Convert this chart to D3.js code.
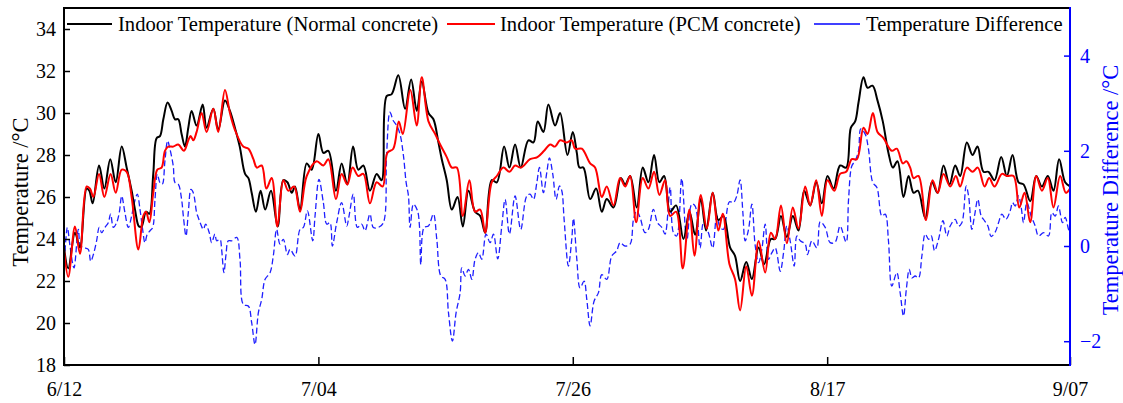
<!DOCTYPE html>
<html><head><meta charset="utf-8">
<script src="https://cdn.jsdelivr.net/npm/d3@7"></script>
<style>
html,body{margin:0;padding:0;background:#fff;}
svg{display:block;}
svg text{font-family:"Liberation Serif","Times New Roman",serif !important;}
</style></head>
<body>
<svg id="chart" width="1123" height="403"></svg>
<script>
// ---------- DATA (day offset from 6/12, value) ----------
const xTickDays = [0, 22, 44, 66, 87];
const xTickLabels = ["6/12", "7/04", "7/26", "8/17", "9/07"];
const leftTicks = [18, 20, 22, 24, 26, 28, 30, 32, 34];
const rightTicks = [-2, 0, 2, 4];
const seriesNames = ["Indoor Temperature (Normal concrete)", "Indoor Temperature (PCM concrete)", "Temperature Difference"];

const normalT = [
[0,23.6],[0.37,22.6],[0.95,24.3],[1.38,23.6],[1.96,26.4],[2.19,26.3],[2.48,25.7],[3.03,27.5],[3.49,26.4],[4.0,27.8],[4.47,26.7],[4.99,28.4],[5.42,27.4],[5.85,26.3],[6.14,25.4],[6.48,24.6],[6.71,24.6],[7.09,25.3],[7.38,25.2],[7.72,27.1],[8.01,28.8],[8.3,28.9],[8.59,29.7],[8.96,30.5],[9.31,30.1],[9.6,29.7],[9.88,29.7],[10.17,29.0],[10.46,28.4],[10.75,29.3],[11.04,30.1],[11.47,29.4],[11.99,30.4],[12.33,29.3],[12.91,30.2],[13.34,29.2],[13.92,30.6],[14.35,30.1],[14.78,29.3],
[15.2,28.4],[15.66,27.1],[15.95,26.9],[16.23,26.2],[16.6,25.3],[17.0,26.3],[17.4,25.4],[17.9,26.3],[18.48,24.6],[18.97,26.8],[19.32,26.7],[19.7,26.2],[19.98,26.5],[20.41,25.4],[20.99,27.6],[21.42,27.3],[22.0,29.0],[22.43,28.1],[22.86,28.2],[23.52,26.3],[24.01,27.6],[24.5,26.6],[25.0,28.4],[25.45,27.3],[25.89,27.5],[26.46,26.3],[27.04,27.1],[27.47,26.8],[27.9,30.8],[28.34,30.9],[28.91,31.8],
[29.5,30.2],[30.02,31.6],[30.51,30.1],[30.94,31.5],[31.52,30.0],[31.95,29.7],[32.38,28.6],[32.67,27.8],[33.1,26.8],[33.54,25.4],[34.03,26.0],[34.49,24.6],[34.98,26.3],[35.55,25.3],[35.99,25.1],[36.42,24.3],[36.99,26.8],[37.43,26.7],[38.06,28.4],[38.52,27.4],[39.01,28.5],[39.5,27.4],[40.16,28.7],[40.6,28.6],[40.97,29.6],[41.46,29.1],[41.89,30.4],[42.47,29.4],[42.9,30.0],[43.54,28.0],[44.0,29.1],
[44.35,28.1],[44.58,27.4],[44.92,27.4],[45.5,25.9],[46.02,26.4],[46.51,25.3],[46.94,25.9],[47.52,25.5],[48.15,26.9],[48.53,26.6],[48.96,27.0],[49.53,25.5],[50.05,27.4],[50.54,26.7],[51.03,28.0],[51.49,26.7],[51.9,27.0],[52.42,25.3],[52.93,25.6],[53.57,24.0],[54.09,25.3],[54.58,24.2],[55.07,25.9],[55.53,24.4],[56.1,26.2],[56.59,24.9],[57.03,25.1],[57.6,23.6],[58.03,23.2],[58.47,22.0],
[59.0,22.9],[59.49,22.1],[60.07,23.6],[60.55,22.8],[61.13,24.0],[61.5,24.0],[62.0,25.1],[62.51,24.1],[63.03,25.1],[63.52,24.4],[64.01,26.3],[64.53,25.6],[65.05,26.7],[65.54,25.7],[66.03,27.0],[66.55,26.4],[67.12,27.5],[67.64,27.4],[68.05,29.3],[68.42,29.6],[68.71,30.5],[69.14,31.7],[69.49,31.2],[69.92,31.3],[70.35,30.6],[70.81,29.6],[71.3,28.1],[71.68,27.4],[72.08,27.7],[72.6,26.0],
[73.04,27.0],[73.47,26.2],[73.85,26.3],[74.48,25.0],[75.06,26.7],[75.55,26.2],[76.06,27.5],[76.58,26.6],[77.07,27.5],[77.5,27.0],[78.08,28.6],[78.57,28.0],[79.0,28.4],[79.52,27.2],[79.95,27.2],[80.47,26.8],[81.05,27.9],[81.54,27.0],[82.03,28.0],[82.55,26.7],[82.98,26.6],[83.56,25.8],[84.08,27.0],[84.57,26.5],[85.08,27.0],[85.57,26.3],[86.06,27.8],[86.58,26.7],[87.0,26.5]
];

const pcmT = [
[0,23.5],[0.37,22.2],[0.95,24.6],[1.38,23.3],[1.96,26.5],[2.25,26.4],[2.54,26.0],[3.03,27.1],[3.49,26.0],[4.03,27.1],[4.47,26.2],[4.99,27.3],[5.42,27.2],[5.85,26.0],[6.43,23.5],[6.86,25.1],[7.09,25.3],[7.38,24.8],[7.72,26.2],[8.07,27.3],[8.44,27.4],[8.73,28.2],[9.02,28.4],[9.45,28.4],[9.88,28.5],[10.37,28.2],[10.75,28.7],[10.95,28.9],[11.18,28.7],[11.47,29.1],[11.9,30.0],[12.33,29.1],[12.91,30.2],[13.34,29.1],[13.92,31.1],[14.35,30.0],[14.78,29.2],
[15.5,28.4],[15.95,28.3],[16.38,27.8],[16.67,27.4],[17.1,27.5],[17.5,26.4],[17.96,26.9],[18.45,24.6],[18.97,26.8],[19.4,26.3],[19.9,26.5],[20.41,25.3],[20.99,27.0],[21.85,27.7],[22.43,27.5],[22.86,27.8],[23.52,25.9],[24.01,27.1],[24.5,26.6],[24.96,27.4],[25.45,27.0],[25.89,27.1],[26.46,25.7],[27.04,26.7],[27.56,26.5],[27.96,28.1],[28.48,28.3],[28.95,29.6],[29.3,29.0],
[29.95,31.1],[30.5,29.4],[30.94,31.7],[31.52,29.6],[32.1,29.0],[32.53,28.5],[33.1,27.9],[33.54,27.4],[33.97,27.4],[34.49,25.1],[35.06,26.8],[35.55,25.3],[35.99,25.4],[36.42,24.3],[36.99,26.7],[37.43,27.0],[38.0,27.4],[38.52,27.2],[39.01,27.5],[39.5,27.4],[40.31,27.8],[40.94,27.9],[41.52,28.2],[42.04,28.5],[42.47,28.4],[42.9,28.7],[43.48,28.6],[43.91,28.7],[44.2,28.3],
[44.78,28.3],[45.5,27.6],[45.93,27.4],[46.51,26.0],[46.94,26.5],[47.52,25.6],[48.09,26.9],[48.53,26.5],[48.96,27.0],[49.48,24.8],[50.05,26.9],[50.54,26.4],[51.03,27.2],[51.49,26.1],[51.98,26.8],[52.42,25.1],[52.93,25.3],[53.51,22.6],[54.09,25.4],[54.52,23.2],[55.07,26.1],[55.59,24.5],[56.1,26.2],[56.59,24.4],[56.97,25.2],[57.55,22.8],[58.03,22.1],[58.47,20.6],
[59.0,22.7],[59.49,21.3],[60.07,23.9],[60.64,22.4],[61.13,24.3],[61.5,24.0],[62.0,25.6],[62.51,23.8],[63.03,25.5],[63.52,24.5],[64.1,26.5],[64.53,25.6],[65.05,26.8],[65.54,25.1],[66.03,26.8],[66.61,26.3],[67.12,27.1],[67.64,27.2],[68.13,27.8],[68.57,27.8],[69.14,29.3],[69.49,29.0],[69.95,30.0],[70.35,29.1],[70.87,28.8],[71.59,28.2],[72.02,28.3],[72.54,27.6],[72.85,27.7],
[73.18,27.4],[73.47,26.9],[73.9,27.0],[74.54,24.9],[75.11,26.8],[75.57,26.2],[76.06,27.1],[76.64,26.5],[77.13,27.0],[77.5,26.5],[78.08,27.4],[78.57,27.2],[79.03,27.4],[79.61,26.5],[80.01,26.9],[80.47,26.5],[81.11,27.1],[81.54,27.0],[82.12,27.0],[82.61,25.5],[83.07,26.2],[83.56,24.8],[84.08,27.0],[84.57,26.3],[85.08,26.9],[85.57,25.5],[86.15,27.0],[86.64,26.2],[87.0,26.4]
];

const diffT = [
[0,-0.49],[0.29,0.39],[0.52,0.0],[0.86,-0.46],[1.24,0.35],[1.44,0.0],[1.82,-0.04],[2.1,-0.07],[2.31,-0.32],[2.54,-0.18],[2.82,0.11],[3.05,0.39],[3.26,0.28],[3.54,0.39],[3.83,0.49],[4.03,0.67],[4.27,0.39],[4.55,0.49],[4.78,0.7],[4.99,1.05],[5.27,0.7],[5.56,0.39],[5.85,0.63],[6.05,0.88],[6.34,1.09],[6.57,0.77],[6.8,0.35],[7.0,0.07],[7.2,0.25],[7.44,0.32],[7.67,0.39],[7.87,0.98],[8.07,1.51],[8.3,1.33],[8.5,1.3],[8.73,1.79],[8.96,2.21],[9.16,2.04],[9.45,1.68],[9.6,1.33],[9.88,1.3],[10.17,0.98],[10.32,0.63],[10.55,0.21],[10.75,0.7],[10.98,1.19],[11.18,1.12],[11.47,0.7],[11.61,0.6],[11.82,0.46],[12.05,0.35],[12.25,0.46],[12.56,0.28],[12.77,0.07],[13.05,0.25],[13.2,0.11],[13.49,0.14],[13.63,-0.07],[13.83,-0.56],[14.01,-0.18],[14.21,0.11],[14.5,0.11],
[14.94,0.18],[15.22,-0.28],[15.51,-1.23],[15.94,-1.26],[16.23,-1.61],[16.52,-2.07],[16.81,-1.4],[17.1,-1.12],[17.39,-0.7],[17.82,-0.56],[18.1,-0.21],[18.39,0.35],[18.68,0.04],[18.97,0.14],[19.32,-0.18],[19.55,-0.07],[19.98,-0.21],[20.41,0.35],[20.7,0.39],[21.05,0.74],[21.51,0.11],[21.71,0.63],[22.05,1.4],[22.43,0.91],[22.72,0.46],[23.0,0.49],[23.21,0.0],[23.58,0.49],[24.01,0.91],[24.45,0.42],[24.65,0.63],[25.02,1.09],[25.37,0.39],[25.74,0.46],[26.03,0.32],[26.46,0.67],[26.75,0.39],[27.18,0.39],[27.62,0.49],[27.9,1.93],[28.19,2.81],[28.48,2.63],[28.77,2.53],[29.06,2.35],
[29.36,1.89],[29.59,1.33],[29.79,1.05],[29.93,0.39],[30.22,0.88],[30.57,0.74],[30.74,0.42],[30.86,-0.39],[31.14,0.39],[31.52,0.42],[31.95,0.67],[32.24,0.14],[32.59,-0.63],[32.96,-0.7],[33.25,-1.4],[33.59,-2.0],[33.91,-1.4],[34.26,-0.98],[34.4,-0.46],[34.69,-0.63],[34.98,-0.49],[35.27,-0.7],[35.55,-0.28],[35.84,-0.14],[36.13,-0.28],[36.5,0.25],[36.85,0.07],[37.14,0.25],[37.51,-0.27],[37.86,0.42],[38.15,0.98],[38.52,0.25],[39.01,1.05],[39.5,0.35],[40.02,1.05],[40.31,1.09],[40.6,0.98],[40.89,1.33],[41.12,1.65],[41.46,1.12],[41.75,1.54],[41.98,1.85],[42.27,1.51],[42.56,0.98],[42.85,1.26],[43.05,1.16],[43.25,0.56],[43.62,-0.42],[43.91,0.14],[44.06,0.58],
[44.35,-0.28],[44.63,-0.88],[44.98,-0.74],[45.21,-1.12],[45.5,-1.68],[45.84,-1.16],[46.22,-0.98],[46.51,-0.6],[46.94,-0.7],[47.37,-0.21],[47.8,-0.1],[48.09,0.07],[48.52,0.0],[48.96,0.04],[49.25,0.56],[49.53,0.74],[49.82,0.6],[50.25,0.28],[50.54,0.35],[50.97,0.77],[51.32,0.49],[51.7,0.39],[51.98,0.25],[52.42,1.23],[52.7,0.28],[52.99,0.21],[53.42,1.42],[53.86,0.11],[54.29,0.88],[54.58,0.84],[55.01,-0.04],[55.3,0.49],[55.73,0.28],[56.1,-0.04],[56.45,0.63],[56.74,0.39],[57.03,0.35],[57.55,0.93],[57.89,0.91],[58.18,1.05],[58.47,1.39],
[58.71,0.7],[58.91,0.11],[59.2,0.35],[59.49,0.88],[59.78,0.0],[60.07,-0.35],[60.35,-0.07],[60.64,0.46],[60.93,-0.28],[61.22,-0.14],[61.51,-0.04],[61.94,-0.53],[62.23,-0.14],[62.51,0.42],[62.8,0.11],[63.15,-0.42],[63.38,0.21],[63.67,0.11],[64.1,0.04],[64.3,-0.18],[64.68,0.11],[65.11,-0.04],[65.4,0.51],[65.83,0.39],[66.26,0.07],[66.69,0.08],[67.12,0.42],[67.64,0.08],[67.85,0.98],[68.13,1.68],[68.42,1.79],[68.71,2.0],[68.91,2.46],[69.29,2.35],[69.57,2.04],[69.95,1.33],[70.3,1.23],[70.73,0.63],[71.02,0.67],[71.3,0.11],[71.59,-0.84],[72.02,-0.56],[72.31,-0.98],[72.6,-1.47],[72.85,-0.9],
[73.1,-0.49],[73.33,-0.67],[73.61,-0.63],[73.9,-0.67],[74.19,-0.21],[74.48,0.25],[74.77,0.14],[75.0,0.21],[75.29,-0.1],[75.63,0.14],[76.01,0.53],[76.35,0.21],[76.64,0.42],[77.07,0.56],[77.36,0.42],[77.65,0.49],[78.02,1.26],[78.23,1.05],[78.51,0.35],[78.74,0.63],[79.03,0.98],[79.32,0.63],[79.61,0.53],[79.9,0.42],[80.18,0.2],[80.53,0.29],[80.82,0.49],[81.11,0.67],[81.45,0.56],[81.83,0.74],[82.03,0.91],[82.26,0.84],[82.55,1.05],[82.78,0.81],[82.98,0.49],[83.27,0.91],[83.64,0.63],[83.99,0.42],[84.28,0.21],[84.71,0.28],[85.14,0.21],[85.43,0.7],[85.72,0.63],[86.0,0.84],[86.35,0.49],[86.58,0.6],[86.87,0.35],[87.0,0.25]
];

// ---------- LAYOUT ----------
const svg = d3.select("#chart");
const L = 64, R = 1070, T = 8, B = 365;
const TICK_FONT = 20, LEG_FONT = 20.6, TITLE_FONT = 22.5;
const SERIF = "Liberation Serif";

const x = d3.scaleLinear().domain([0, 87]).range([L, R]);
const yL = d3.scaleLinear().domain([18, 35]).range([B, T]);
const yR = d3.scaleLinear().domain([-2.5, 5]).range([B, T]);

svg.append("defs").append("clipPath").attr("id", "clip")
  .append("rect").attr("x", L).attr("y", T).attr("width", R - L).attr("height", B - T);

const plot = svg.append("g").attr("clip-path", "url(#clip)");
const lineL = d3.line().x(d => x(d[0])).y(d => yL(d[1])).curve(d3.curveCatmullRom.alpha(0.5));
const lineR = d3.line().x(d => x(d[0])).y(d => yR(d[1])).curve(d3.curveCatmullRom.alpha(0.5));

plot.append("path").datum(diffT).attr("d", lineR).attr("fill", "none")
  .attr("stroke", "#1f1fff").attr("stroke-width", 1.3).attr("stroke-dasharray", "6,3");
plot.append("path").datum(normalT).attr("d", lineL).attr("fill", "none")
  .attr("stroke", "#000").attr("stroke-width", 2);
plot.append("path").datum(pcmT).attr("d", lineL).attr("fill", "none")
  .attr("stroke", "#ff0000").attr("stroke-width", 2);

// ---------- AXES ----------
function styleAxis(g, color) {
  g.attr("font-family", SERIF).attr("font-size", TICK_FONT);
  g.select(".domain").remove();
  g.selectAll("line").attr("stroke", color).attr("stroke-width", 1.5);
  g.selectAll("text").attr("fill", color).attr("font-family", SERIF).attr("font-size", TICK_FONT);
}
const axL = svg.append("g").attr("transform", `translate(${L},0)`)
  .call(d3.axisLeft(yL).tickValues(leftTicks).tickSize(-6).tickPadding(8).tickFormat(d3.format("d")));
styleAxis(axL, "#000");

const axR = svg.append("g").attr("transform", `translate(${R},0)`)
  .call(d3.axisRight(yR).tickValues(rightTicks).tickSize(-6).tickPadding(10).tickFormat(d3.format("d")));
styleAxis(axR, "#0000ff");

const axB = svg.append("g").attr("transform", `translate(0,${B})`)
  .call(d3.axisBottom(x).tickValues(xTickDays).tickSize(-8).tickPadding(17)
    .tickFormat((d, i) => xTickLabels[i]));
styleAxis(axB, "#000");

// spines
svg.append("line").attr("x1", L).attr("x2", R).attr("y1", T).attr("y2", T).attr("stroke", "#000").attr("stroke-width", 2);
svg.append("line").attr("x1", L).attr("x2", R).attr("y1", B).attr("y2", B).attr("stroke", "#000").attr("stroke-width", 2);
svg.append("line").attr("x1", L).attr("x2", L).attr("y1", T - 1).attr("y2", B + 1).attr("stroke", "#000").attr("stroke-width", 2);
svg.append("line").attr("x1", R).attr("x2", R).attr("y1", T - 1).attr("y2", B + 1).attr("stroke", "#0000ff").attr("stroke-width", 2);

// axis titles
svg.append("text").attr("transform", `translate(28,192) rotate(-90)`)
  .attr("text-anchor", "middle").attr("font-family", SERIF).attr("font-size", TITLE_FONT).attr("fill", "#000")
  .text("Temperature /°C");
svg.append("text").attr("transform", `translate(1118,190) rotate(-90)`)
  .attr("text-anchor", "middle").attr("font-family", SERIF).attr("font-size", TITLE_FONT).attr("fill", "#0000ff")
  .text("Temperature Difference /°C");

// ---------- LEGEND ----------
const legendItems = [
  {name: seriesNames[0], color: "#000", w: 2, x1: 67, x2: 112, tx: 118},
  {name: seriesNames[1], color: "#ff0000", w: 2, x1: 447, x2: 495, tx: 500},
  {name: seriesNames[2], color: "#0000ff", w: 1.3, x1: 814, x2: 860, tx: 866}
];
const lg = svg.append("g");
legendItems.forEach(it => {
  lg.append("line").attr("x1", it.x1).attr("x2", it.x2).attr("y1", 24).attr("y2", 24)
    .attr("stroke", it.color).attr("stroke-width", it.w);
  lg.append("text").attr("x", it.tx).attr("y", 31).attr("font-family", SERIF).attr("font-size", LEG_FONT).attr("fill", "#000")
    .text(it.name);
});
</script>
</body></html>
